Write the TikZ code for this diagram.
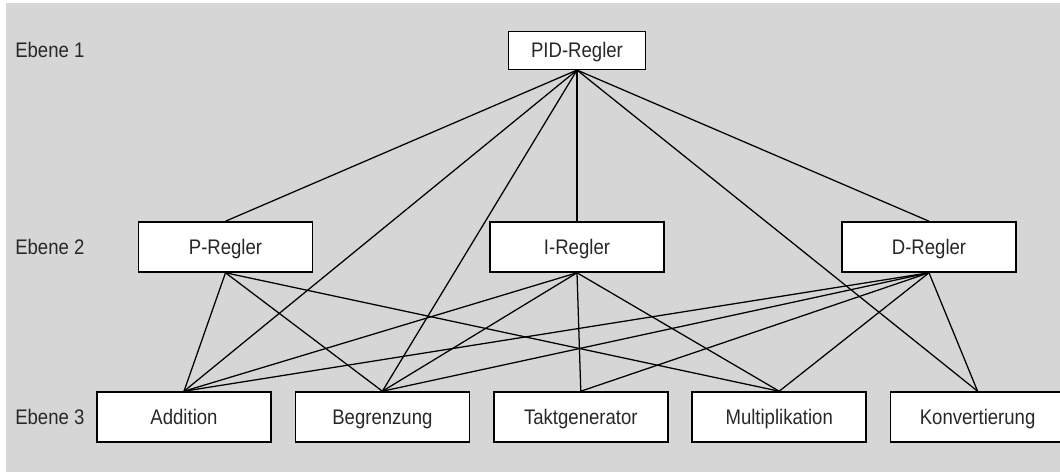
\documentclass[tikz,border=0pt]{standalone}
\usepackage{fontspec}
\setmainfont{Liberation Sans}[FakeStretch=0.88]
\usepackage{xcolor}
\usepackage{tikz}
\usetikzlibrary{positioning}
\definecolor{bggray}{RGB}{214,214,214}
\definecolor{txtgray}{RGB}{40,40,40}
\tikzset{
  block/.style={draw,fill=white,line width=1.1pt,minimum width=4.35cm,minimum height=1.25cm,
    inner sep=0pt,text height=10.6pt,text depth=0pt,text=txtgray,font=\fontsize{15}{16}\selectfont},
  topblock/.style={block,minimum width=3.42cm,minimum height=0.94cm},
  levellabel/.style={anchor=west,inner sep=0pt,text height=10.6pt,text depth=0pt,
    text=txtgray,font=\fontsize{15}{16}\selectfont},
  link/.style={line width=0.9pt}
}

\begin{document}
\begin{tikzpicture}[x=0.025cm,y=-0.025cm]
\useasboundingbox (0,0) rectangle (1060,473);
\fill[bggray] (6,3) rectangle (1060,472);

% levels
\node[levellabel] (lev1) at (15,50) {Ebene 1};
\node[levellabel] (lev2) at (15,247) {Ebene 2};
\node[levellabel] (lev3) at (15,417) {Ebene 3};

% level 1 and 2
\node[topblock] (pid) at (577,50.5) {PID-Regler};
\node[block] (preg) at (225.5,247) {P-Regler};
\node[block] (ireg) at (577,247) {I-Regler};
\node[block] (dreg) at (929,247) {D-Regler};

% level 3
\node[block] (add) at (184,417) {Addition};
\node[block,right=0.57cm of add] (begr) {Begrenzung};
\node[block,right=0.57cm of begr] (takt) {Taktgenerator};
\node[block,right=0.57cm of takt] (mult) {Multiplikation};
\node[block,right=0.57cm of mult] (konv) {Konvertierung};

% connections
\draw[link] (pid.south) -- (preg.north);
\draw[link] (pid.south) -- (ireg.north);
\draw[link] (pid.south) -- (dreg.north);
\draw[link] (pid.south) -- (add.north);
\draw[link] (pid.south) -- (begr.north);
\draw[link] (pid.south) -- (konv.north);

\draw[link] (preg.south) -- (add.north);
\draw[link] (preg.south) -- (begr.north);
\draw[link] (preg.south) -- (mult.north);

\draw[link] (ireg.south) -- (add.north);
\draw[link] (ireg.south) -- (begr.north);
\draw[link] (ireg.south) -- (takt.north);
\draw[link] (ireg.south) -- (mult.north);

\draw[link] (dreg.south) -- (add.north);
\draw[link] (dreg.south) -- (begr.north);
\draw[link] (dreg.south) -- (takt.north);
\draw[link] (dreg.south) -- (mult.north);
\draw[link] (dreg.south) -- (konv.north);
\end{tikzpicture}
\end{document}
